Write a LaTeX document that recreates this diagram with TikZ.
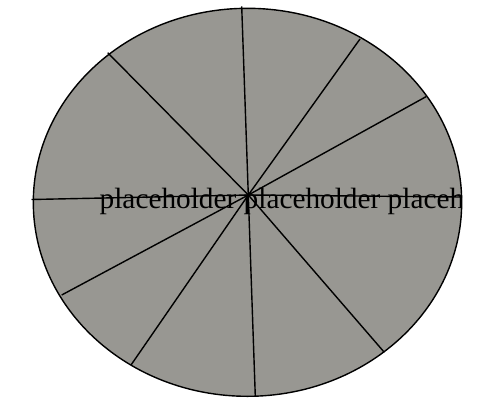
\documentclass[tikz,border=0pt]{standalone}
\usepackage{fontspec}
\setmainfont{Liberation Serif}
\begin{document}
\begin{tikzpicture}[x=1pt,y=-1pt,
  wheelfill/.style={fill={rgb,255:red,152;green,151;blue,146}},
  rim/.style={draw=black,line width=1.4pt},
  spoke/.style={draw=black,line width=1.4pt},
  label/.style={inner sep=0pt,anchor=base west,font=\fontsize{29.3}{34}\selectfont}]
\useasboundingbox (0,0) rectangle (492,413);
\coordinate (c) at (248.3,195);
\coordinate (top) at (241.7,6.3);
\coordinate (bot) at (255.3,396.5);
\coordinate (lft) at (31.5,199.5);
\coordinate (rgt) at (462,197);
\coordinate (ul) at (107.7,52.7);
\coordinate (lr) at (384.3,352.3);
\coordinate (ur) at (360,39);
\coordinate (ll2) at (131,365);
\coordinate (ru) at (426,96.7);
\coordinate (ll) at (61.7,295);
\fill[wheelfill] (247.5,202.3) ellipse [x radius=214.2, y radius=194];
\begin{scope}
  \clip (247.5,202.3) ellipse [x radius=214.2, y radius=194];
  \node[label] (txt) at (99.5,208.5) {placeholder placeholder placeholder};
\end{scope}
\draw[rim] (247.5,202.3) ellipse [x radius=214.2, y radius=194];
\foreach \e in {top,bot,lft,rgt,ul,lr,ur,ll2,ru,ll}
  \draw[spoke] (c) -- (\e);
\end{tikzpicture}
\end{document}
